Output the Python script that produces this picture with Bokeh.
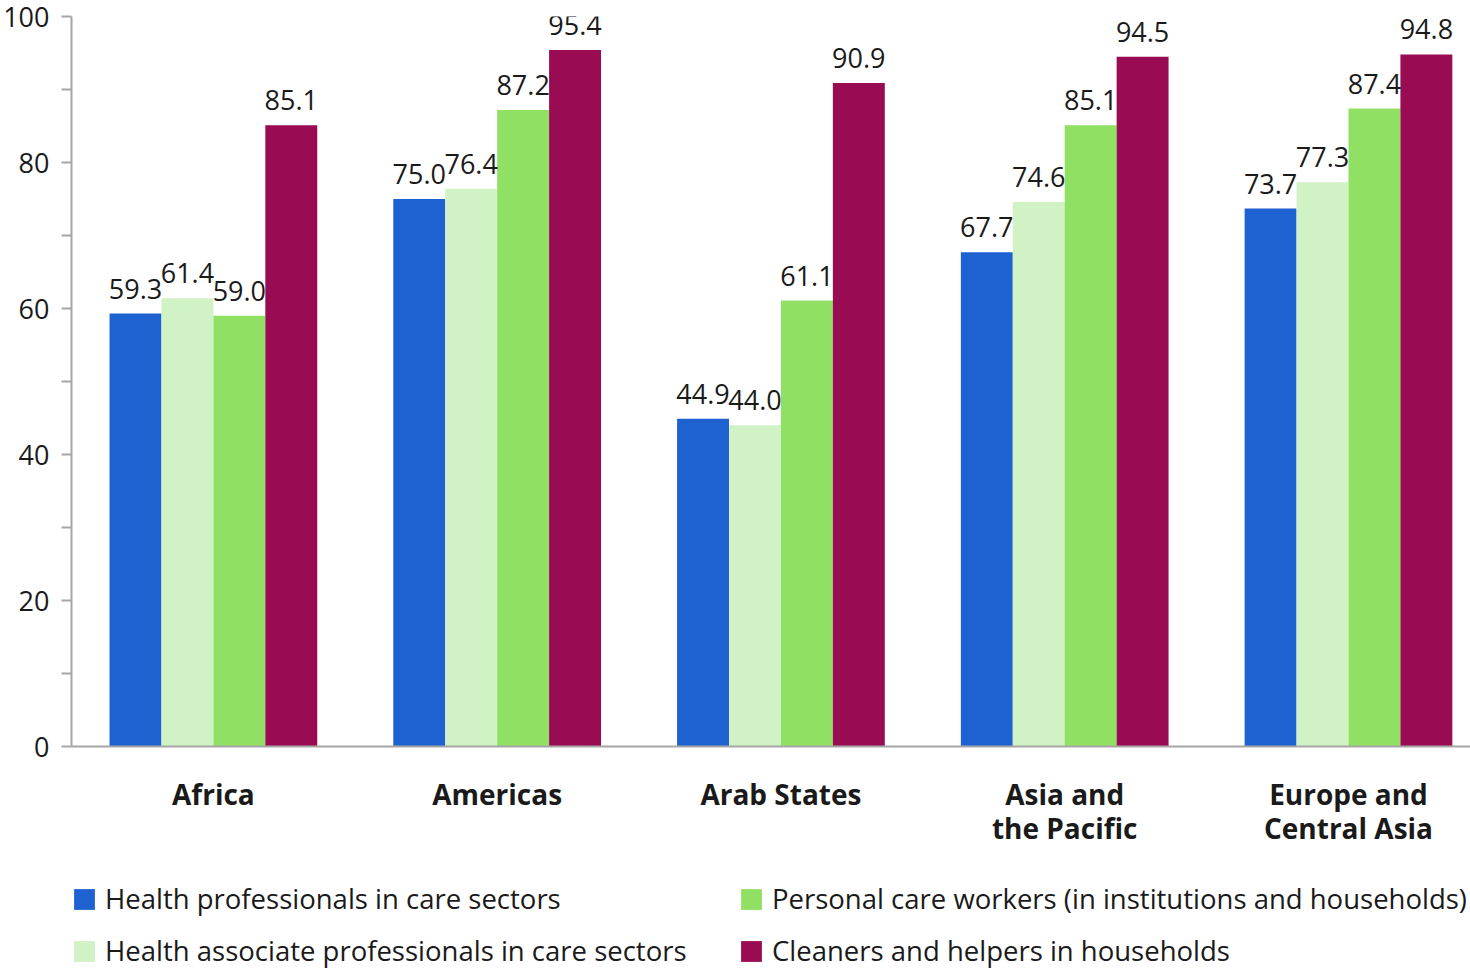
from bokeh.plotting import figure
from bokeh.models import ColumnDataSource, Legend, LegendItem, FixedTicker, Range1d, LabelSet
from bokeh.layouts import column
from bokeh.transform import dodge
from bokeh.core.properties import value
from bokeh.embed import file_html
from bokeh.resources import INLINE

regions = ["Africa", "Americas", "Arab States", "Asia and\nthe Pacific", "Europe and\nCentral Asia"]
health_prof = [59.3, 75.0, 44.9, 67.7, 73.7]
health_assoc = [61.4, 76.4, 44.0, 74.6, 77.3]
personal_care = [59.0, 87.2, 61.1, 85.1, 87.4]
cleaners = [85.1, 95.4, 90.9, 94.5, 94.8]
series_names = [
    "Health professionals in care sectors",
    "Health associate professionals in care sectors",
    "Personal care workers (in institutions and households)",
    "Cleaners and helpers in households",
]
y_ticks = [0, 20, 40, 60, 80, 100]

colors = ["#1D62D0", "#D1F2C5", "#90E064", "#990B53"]
FONT = "Open Sans"
TXT = "#1a1a1a"
AX = "#a6a6a6"

xi = list(range(len(regions)))
src = ColumnDataSource(dict(
    x=xi,
    s0=health_prof, s1=health_assoc, s2=personal_care, s3=cleaners,
    l0=[f"{v:.1f}" for v in health_prof],
    l1=[f"{v:.1f}" for v in health_assoc],
    l2=[f"{v:.1f}" for v in personal_care],
    l3=[f"{v:.1f}" for v in cleaners],
))

p = figure(width=1470, height=860, output_backend="svg", toolbar_location=None,
           x_range=Range1d(-0.5, 4.43), y_range=Range1d(0, 100),
           min_border_left=70, min_border_right=0, min_border_top=16, min_border_bottom=114)
p.outline_line_color = None
p.xgrid.visible = False
p.ygrid.visible = False
p.background_fill_color = "white"
p.border_fill_color = "white"

bw = 0.183
offsets = [-1.5 * bw, -0.5 * bw, 0.5 * bw, 1.5 * bw]
label_lift = 2.05  # gap between bar top and its value label, in axis units
for i in range(4):
    p.vbar(x=dodge("x", offsets[i], range=p.x_range), top=f"s{i}", width=bw, bottom=0,
           source=src, fill_color=colors[i], line_color=None)
    labels = LabelSet(x=dodge("x", offsets[i], range=p.x_range),
                      y=dodge(f"s{i}", label_lift, range=p.y_range),
                      text=f"l{i}", source=src,
                      text_align="center", text_baseline="alphabetic",
                      text_font=value(FONT), text_font_size=value("27px"), text_color=value(TXT))
    p.add_layout(labels)

# y axis
ya = p.yaxis[0]
ya.ticker = FixedTicker(ticks=y_ticks, minor_ticks=[10, 30, 50, 70, 90])
ya.axis_line_color = AX
ya.axis_line_width = 2
ya.major_tick_line_color = AX
ya.major_tick_line_width = 2
ya.minor_tick_line_color = AX
ya.minor_tick_line_width = 2
ya.major_tick_out = 10
ya.major_tick_in = 0
ya.minor_tick_out = 10
ya.minor_tick_in = 0
ya.major_label_standoff = 12
ya.major_label_text_font = FONT
ya.major_label_text_font_size = "27px"
ya.major_label_text_color = TXT

# x axis
xa = p.xaxis[0]
xa.ticker = FixedTicker(ticks=xi)
xa.major_label_overrides = {i: regions[i] for i in xi}
xa.axis_line_color = AX
xa.axis_line_width = 2
xa.major_tick_line_color = None
xa.minor_tick_line_color = None
xa.major_label_standoff = 22
xa.major_label_text_font = FONT
xa.major_label_text_font_size = "28px"
xa.major_label_text_font_style = "bold"
xa.major_label_text_color = TXT
xa.major_label_text_line_height = 0.92

# legend figure (below the chart)
lf = figure(width=1470, height=112, output_backend="svg", toolbar_location=None,
            x_range=Range1d(0, 1), y_range=Range1d(0, 1),
            x_axis_location=None, y_axis_location=None,
            min_border_left=56, min_border_right=0, min_border_top=20, min_border_bottom=0)
lf.grid.visible = False
lf.outline_line_color = None
lf.background_fill_color = "white"
lf.border_fill_color = "white"
dummy = ColumnDataSource(dict(x=[-10.0], top=[0.0]))
leg_renderers = []
for i in range(4):
    r = lf.vbar(x="x", top="top", width=0.1, bottom=0, source=dummy,
                fill_color=colors[i], line_color=None)
    leg_renderers.append(r)

items = [LegendItem(label=series_names[i], renderers=[leg_renderers[i]]) for i in range(4)]
legend = Legend(items=items, location="top_left", nrows=2, orientation="vertical",
                glyph_width=26, glyph_height=26, label_standoff=8, spacing=15,
                padding=0, margin=0, border_line_color=None, background_fill_alpha=0,
                label_text_font=FONT, label_text_font_size="27.5px", label_text_color=TXT,
                label_height=20, label_width=618)
lf.add_layout(legend, "center")

layout = column(p, lf, spacing=0)
open("out.html", "w").write(file_html(layout, INLINE))
